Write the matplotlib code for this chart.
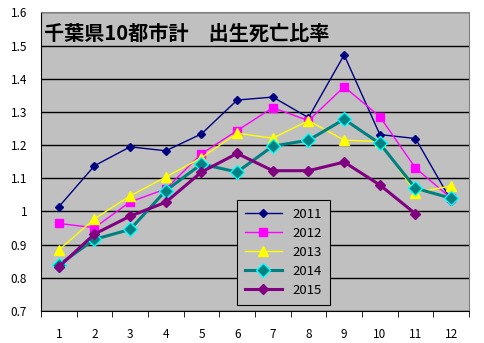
import numpy as np
import matplotlib.pyplot as plt

plt.rcParams['font.family'] = ['Noto Sans CJK JP', 'DejaVu Sans']

months = np.arange(1, 13)
y2011 = [1.014, 1.138, 1.195, 1.183, 1.234, 1.336, 1.345, 1.283, 1.472, 1.232, 1.220, 1.033]
y2012 = [0.964, 0.951, 1.029, 1.068, 1.174, 1.244, 1.313, 1.274, 1.376, 1.286, 1.131, 1.040]
y2013 = [0.884, 0.978, 1.047, 1.104, 1.162, 1.236, 1.221, 1.274, 1.215, 1.211, 1.057, 1.077]
y2014 = [0.839, 0.916, 0.946, 1.063, 1.143, 1.119, 1.197, 1.215, 1.278, 1.205, 1.070, 1.040]
y2015 = [0.833, 0.932, 0.986, 1.028, 1.119, 1.175, 1.123, 1.123, 1.149, 1.080, 0.993]
title = '千葉県10都市計　出生死亡比率'

fig = plt.figure(figsize=(4.85, 3.43), dpi=100)
ax = fig.add_axes([0.0845, 0.0933, 0.8825, 0.8703])
ax.set_facecolor('#c0c0c0')

ax.plot(months, y2011, color='#000080', lw=1, marker='D', ms=4.5, label='2011', zorder=3)
ax.plot(months, y2012, color='#ff00ff', lw=1, marker='s', ms=6, label='2012', zorder=3)
ax.plot(months, y2013, color='#ffff00', lw=1, marker='^', ms=6.5, label='2013', zorder=3)
ax.plot(months, y2014, color='#008080', lw=2.2, marker='D', ms=7, mec='#00ffff', mew=1,
        label='2014', zorder=3)
ax.plot(months[:len(y2015)], y2015, color='#800080', lw=2.2, marker='D', ms=5, label='2015', zorder=3)

ax.set_xlim(0.5, 12.5)
ax.set_ylim(0.7, 1.6)
ax.set_yticks(np.arange(0.7, 1.61, 0.1))
ax.set_yticklabels(['0.7', '0.8', '0.9', '1', '1.1', '1.2', '1.3', '1.4', '1.5', '1.6'])
ax.grid(axis='y', color='black', lw=1)
ax.set_axisbelow(True)

ax.set_xticks(months)
ax.set_xticklabels([str(m) for m in months])
ax.set_xticks(np.arange(0.5, 12.6, 1), minor=True)
ax.tick_params(axis='x', which='major', length=0, pad=12, labelsize=8.5)
ax.tick_params(axis='x', which='minor', length=4, direction='out', color='black')
ax.tick_params(axis='y', length=0, pad=10, labelsize=8.5)

for s in ['top', 'right']:
    ax.spines[s].set_color('#808080')
for s in ['left', 'bottom']:
    ax.spines[s].set_color('black')

ax.text(0.008, 0.93, title, transform=ax.transAxes, fontsize=14.5, fontweight='bold',
        va='center', ha='left')

leg = ax.legend(loc='upper left', bbox_to_anchor=(0.458, 0.372), borderaxespad=0,
                frameon=True, fancybox=False, facecolor='#c0c0c0', edgecolor='black',
                framealpha=1, fontsize=9.5, handlelength=2.8, labelspacing=0.45,
                borderpad=0.6)
leg.get_frame().set_linewidth(0.8)

fig.savefig('out.png', dpi=100, facecolor='white')
